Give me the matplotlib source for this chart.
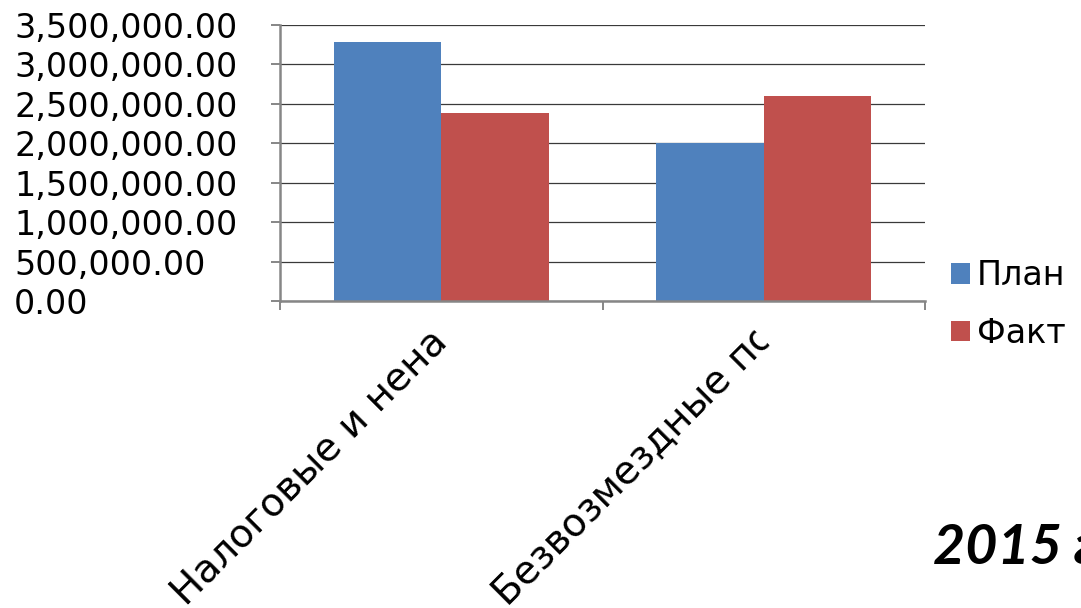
import matplotlib
matplotlib.use('Agg')
import matplotlib.pyplot as plt
from matplotlib.patches import Polygon
from matplotlib.transforms import offset_copy, IdentityTransform
from matplotlib.ticker import FuncFormatter
from matplotlib.font_manager import FontProperties
import numpy as np

# data
categories = ['Налоговые и нена', 'Безвозмездные по']
series_names = ['План', 'Факт']
plan = [3290000, 2005000]
fact = [2390000, 2600000]
year_text = '2015 год'

BLUE = '#4F81BD'
RED = '#C0504D'
AXIS = '#868686'

W, H = 1081, 608
fig = plt.figure(figsize=(W / 100, H / 100), dpi=100, facecolor='white')
ax = fig.add_axes([280 / W, 1 - 301 / H, (925 - 280) / W, (301 - 25) / H])

x = np.arange(len(categories))
w = 1 / 3
ax.bar(x - w / 2, plan, w, color=BLUE, label=series_names[0], zorder=3)
ax.bar(x + w / 2, fact, w, color=RED, label=series_names[1], zorder=3)

ax.set_xlim(-0.5, len(categories) - 0.5)
ax.set_ylim(0, 3500000)
ax.set_yticks(np.arange(0, 3500001, 500000))
ax.yaxis.set_major_formatter(FuncFormatter(lambda v, p: f'{v:,.2f}'))
ax.grid(axis='y', color='#3a3a3a', linewidth=0.9, zorder=0)

for s in ['top', 'right']:
    ax.spines[s].set_visible(False)
for s in ['left', 'bottom']:
    ax.spines[s].set_color(AXIS)
    ax.spines[s].set_linewidth(1.8)
    ax.spines[s].set_zorder(4)

ax.set_xticks(np.arange(-0.5, len(categories), 1.0))
ax.set_xticklabels([])
ax.tick_params(axis='x', direction='out', length=6.5, width=1.4, color=AXIS)
ax.tick_params(axis='y', direction='out', length=6.5, width=1.4, color=AXIS,
               labelsize=24, pad=185)
for lab in ax.get_yticklabels():
    lab.set_horizontalalignment('left')

# rotated category labels, cut off at a fixed length like in Excel
fs = 28
fig.canvas.draw()
renderer = fig.canvas.get_renderer()
prop = FontProperties(family='DejaVu Sans', size=fs)
w1, _, _ = renderer.get_text_width_height_descent(categories[1][:-1], prop, ismath=False)
w2, _, _ = renderer.get_text_width_height_descent('о', prop, ismath=False)
L = w1 + 0.55 * w2
d = np.array([np.cos(np.pi / 4), np.sin(np.pi / 4)])
n = np.array([-d[1], d[0]])
tr = offset_copy(ax.get_xaxis_transform(), fig=fig, x=-256 * 0.72, y=-306 * 0.72, units='points')
for i, lab in enumerate(categories):
    fig.text(i, 0, lab, transform=tr, rotation=45, rotation_mode='anchor',
             ha='left', va='baseline', fontsize=fs, color='black', zorder=3)

# white mask over the cut half of the last glyph of the second label
S = tr.transform((1, 0))
pts = [S + L * d - 6 * n, S + (L + w2) * d - 6 * n,
       S + (L + w2) * d + 26 * n, S + L * d + 26 * n]
fig.add_artist(Polygon(pts, closed=True, transform=IdentityTransform(),
                       facecolor='white', edgecolor='none', zorder=10))

fig.legend(loc='upper left', bbox_to_anchor=(951 / W, 1 - 259 / H), frameon=False,
           fontsize=24, handlelength=0.58, handleheight=0.58, handletextpad=0.2,
           labelspacing=0.74, borderpad=0, borderaxespad=0)

fig.text(933 / W, 1 - 564 / H, year_text, fontsize=40, fontweight='bold',
         fontstyle='italic', family='Lato', va='baseline', ha='left')

fig.savefig('out.png', dpi=100, facecolor='white')
